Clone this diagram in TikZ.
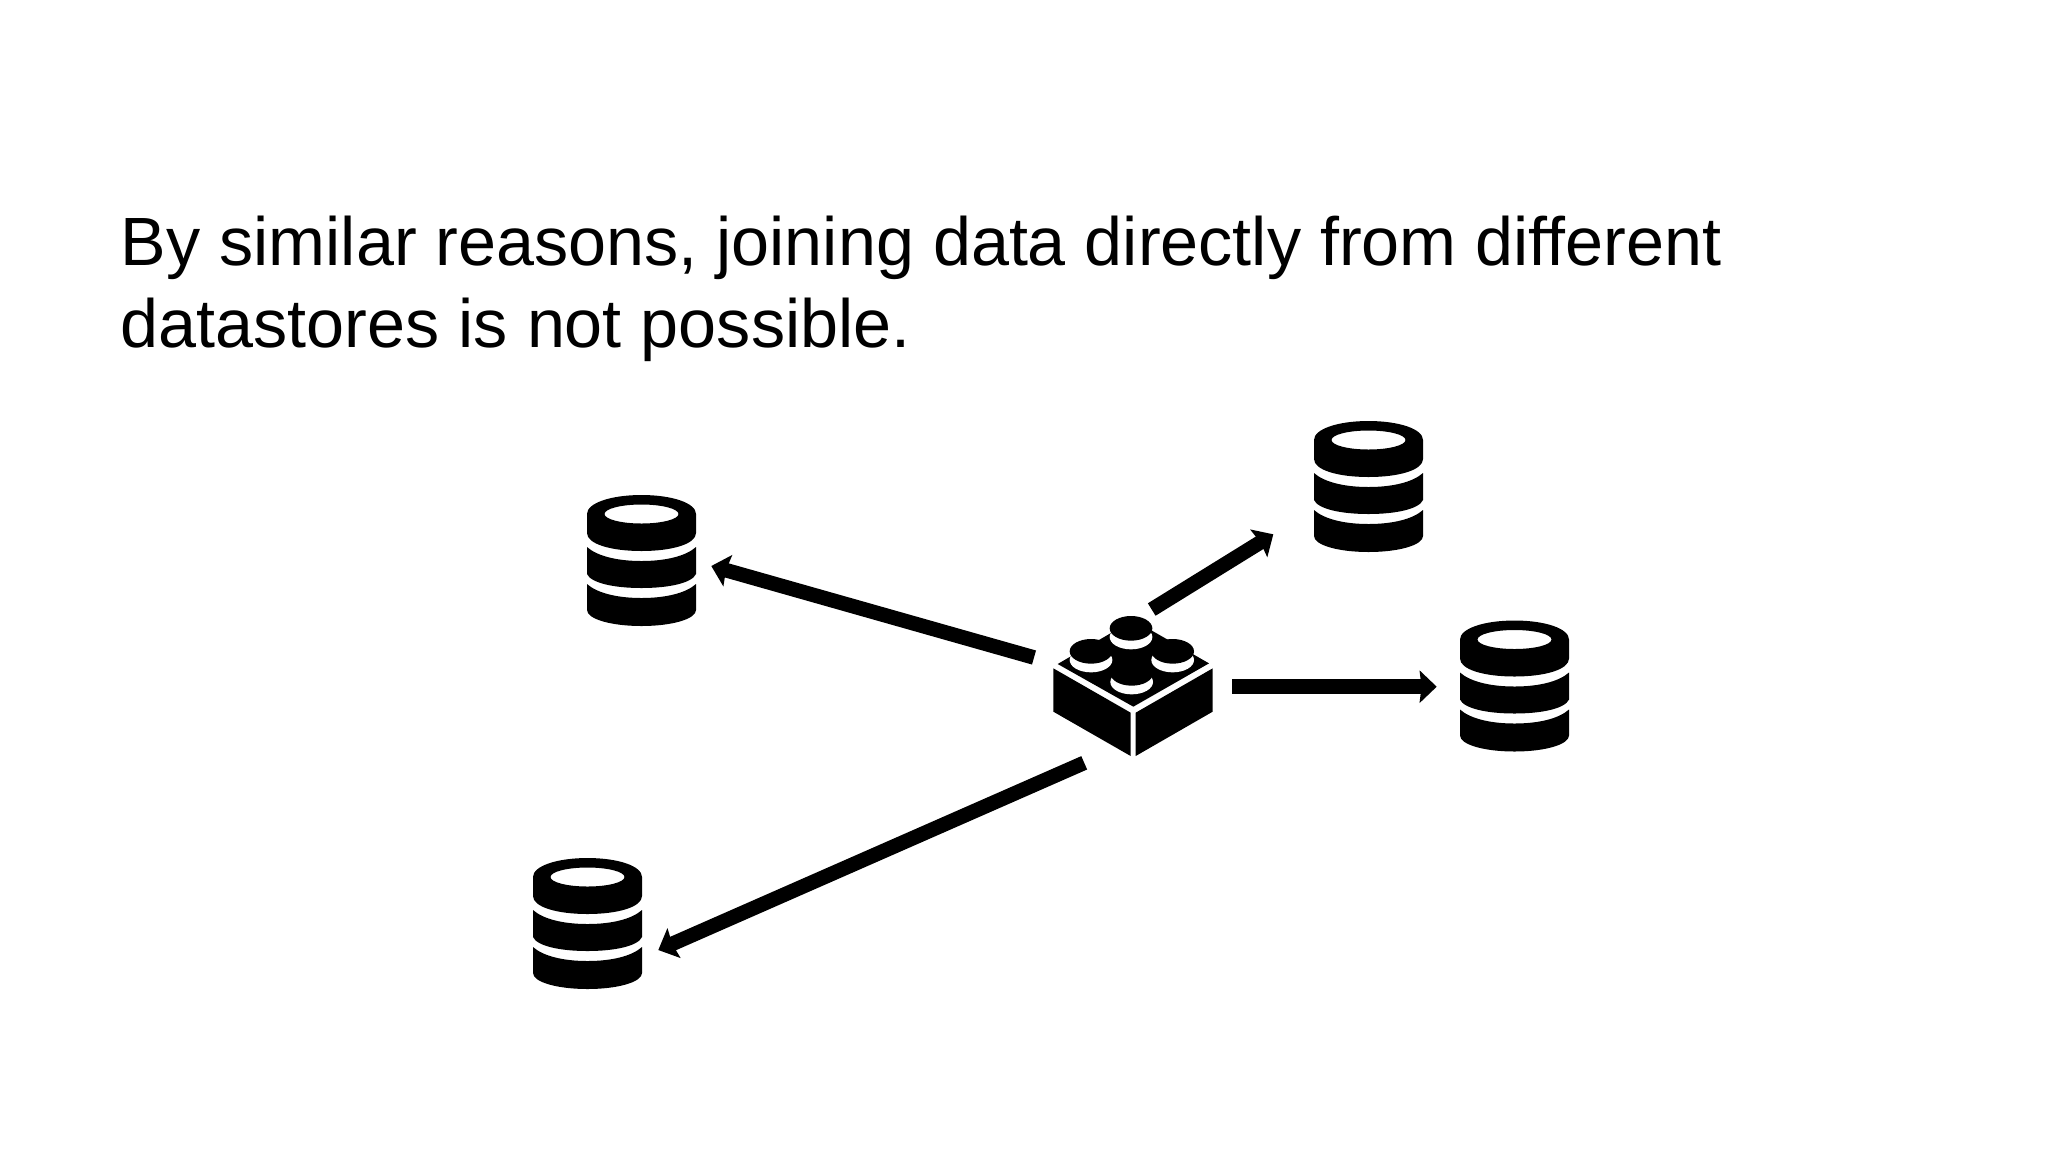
\documentclass[tikz,border=0pt]{standalone}
\usepackage{fontspec}
\setmainfont{Liberation Sans}
\usetikzlibrary{arrows.meta}
\tikzset{
  px/.style={x=0.5pt,y=-0.5pt},
  link/.style={line width=7.3pt,line cap=butt,black,-{Stealth[length=8.5pt,width=16pt,inset=0.9pt]}},
  title/.style={anchor=north west,inner sep=0pt,align=left,black,font=\fontsize{34.15pt}{41pt}\selectfont},
  dbicon/.pic={
    \fill[black,even odd rule] (0,19) .. controls (0,8) and (24,0) .. (54.5,0) .. controls (85,0) and (109,8) .. (109,19)
      -- (109,38) .. controls (109,49) and (85,56) .. (54.5,56) .. controls (24,56) and (0,49) .. (0,38) -- cycle
      (54.5,19) ellipse [x radius=37,y radius=9.5];
    \fill[black] (0,52) .. controls (10,61) and (30,66) .. (54.5,66) .. controls (79,66) and (99,61) .. (109,52)
      -- (109,79) .. controls (105,88) and (82,93) .. (54.5,93) .. controls (27,93) and (4,88) .. (0,79) -- cycle;
    \fill[black] (0,89) .. controls (10,98) and (30,103) .. (54.5,103) .. controls (79,103) and (99,98) .. (109,89)
      -- (109,115) .. controls (109,124) and (85,131) .. (54.5,131) .. controls (24,131) and (0,124) .. (0,115) -- cycle;
  },
  stud/.pic={
    \fill[white] (0,26) ellipse [x radius=64,y radius=37];
    \fill[black] (0,0) ellipse [x radius=64,y radius=37];
  },
}
\begin{document}
\begin{tikzpicture}[px]
\useasboundingbox (0,0) rectangle (2048,1152);
\node[title] (heading) at (120.5,215.5) {By similar reasons, joining data directly from different\\datastores is not possible.};

\pic at (587,495) {dbicon};
\pic at (1314,421) {dbicon};
\pic at (1460,620.5) {dbicon};
\pic at (533,858) {dbicon};

\begin{scope}[shift={(1020,590)},x=0.16667pt,y=-0.16667pt]
  \fill[black] (100,235) -- (332,368) -- (332,498) -- (100,365) -- cycle;
  \fill[black] (347,368) -- (578,235) -- (578,365) -- (347,498) -- cycle;
  \fill[black] (113,222) -- (340,90) -- (567,220) -- (340,350) -- cycle;
  \pic at (333,115) {stud};
  \pic at (213,184) {stud};
  \pic at (458,184) {stud};
  \pic at (335,250) {stud};
\end{scope}

\coordinate (sA) at (1034,657.5);
\coordinate (tA) at (711.3,566);
\coordinate (sB) at (1151.7,609.5);
\coordinate (tB) at (1273.3,534.3);
\coordinate (sC) at (1232.3,686.7);
\coordinate (tC) at (1436.7,686.7);
\coordinate (sD) at (1084.2,762.8);
\coordinate (tD) at (658.3,950);
\draw[link] (sA) -- (tA);
\draw[link] (sB) -- (tB);
\draw[link] (sC) -- (tC);
\draw[link] (sD) -- (tD);
\end{tikzpicture}
\end{document}
